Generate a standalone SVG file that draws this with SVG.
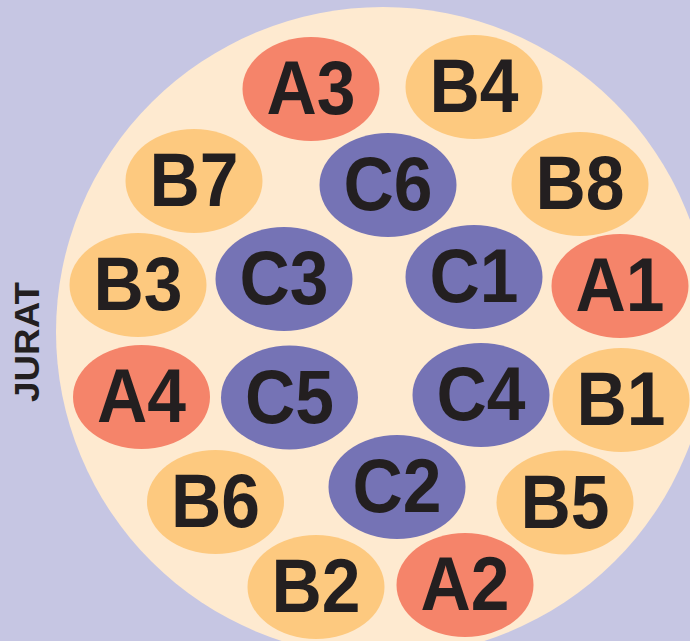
<svg xmlns="http://www.w3.org/2000/svg" width="690" height="641" viewBox="0 0 690 641">
<style>
.a{fill:#F5846A}
.b{fill:#FDC97F}
.c{fill:#7573B5}
.t{font-family:"Liberation Sans",Arial,sans-serif;font-weight:bold;font-size:76px;fill:#231F20;text-anchor:middle}
.j{font-family:"Liberation Sans",Arial,sans-serif;font-weight:bold;font-size:35px;fill:#231F20;text-anchor:middle}
</style>
<rect width="690" height="641" fill="#C6C6E3"/>
<ellipse id="plate" cx="383" cy="332" rx="327" ry="325" fill="#FEEAD0"/>
<text class="j" transform="translate(39,342) rotate(-90)" textLength="120" lengthAdjust="spacingAndGlyphs">JURAT</text>
<g id="connectors"></g>
<g id="A3"><ellipse class="a" cx="311" cy="89" rx="68.5" ry="52"/><text class="t" x="311" y="114" textLength="89" lengthAdjust="spacingAndGlyphs">A3</text></g>
<g id="B4"><ellipse class="b" cx="474" cy="87" rx="68.5" ry="52"/><text class="t" x="474" y="112" textLength="89" lengthAdjust="spacingAndGlyphs">B4</text></g>
<g id="B7"><ellipse class="b" cx="194" cy="181" rx="68.5" ry="52"/><text class="t" x="194" y="206" textLength="89" lengthAdjust="spacingAndGlyphs">B7</text></g>
<g id="C6"><ellipse class="c" cx="388" cy="185" rx="68.5" ry="52"/><text class="t" x="388" y="210" textLength="89" lengthAdjust="spacingAndGlyphs">C6</text></g>
<g id="B8"><ellipse class="b" cx="580" cy="184" rx="68.5" ry="52"/><text class="t" x="580" y="209" textLength="89" lengthAdjust="spacingAndGlyphs">B8</text></g>
<g id="B3"><ellipse class="b" cx="138" cy="285" rx="68.5" ry="52"/><text class="t" x="138" y="310" textLength="89" lengthAdjust="spacingAndGlyphs">B3</text></g>
<g id="C3"><ellipse class="c" cx="284" cy="279" rx="68.5" ry="52"/><text class="t" x="284" y="304" textLength="89" lengthAdjust="spacingAndGlyphs">C3</text></g>
<g id="C1"><ellipse class="c" cx="474" cy="277" rx="68.5" ry="52"/><text class="t" x="474" y="302" textLength="89" lengthAdjust="spacingAndGlyphs">C1</text></g>
<g id="A1"><ellipse class="a" cx="620" cy="286" rx="68.5" ry="52"/><text class="t" x="620" y="311" textLength="89" lengthAdjust="spacingAndGlyphs">A1</text></g>
<g id="A4"><ellipse class="a" cx="141.5" cy="397" rx="68.5" ry="52"/><text class="t" x="141.5" y="422" textLength="89" lengthAdjust="spacingAndGlyphs">A4</text></g>
<g id="C5"><ellipse class="c" cx="289.5" cy="397.5" rx="68.5" ry="52"/><text class="t" x="289.5" y="422.5" textLength="89" lengthAdjust="spacingAndGlyphs">C5</text></g>
<g id="C4"><ellipse class="c" cx="481" cy="395" rx="68.5" ry="52"/><text class="t" x="481" y="420" textLength="89" lengthAdjust="spacingAndGlyphs">C4</text></g>
<g id="B1"><ellipse class="b" cx="621" cy="400" rx="68.5" ry="52"/><text class="t" x="621" y="425" textLength="89" lengthAdjust="spacingAndGlyphs">B1</text></g>
<g id="B6"><ellipse class="b" cx="215.5" cy="502" rx="68.5" ry="52"/><text class="t" x="215.5" y="527" textLength="89" lengthAdjust="spacingAndGlyphs">B6</text></g>
<g id="C2"><ellipse class="c" cx="397" cy="487" rx="68.5" ry="52"/><text class="t" x="397" y="512" textLength="89" lengthAdjust="spacingAndGlyphs">C2</text></g>
<g id="B5"><ellipse class="b" cx="565" cy="502.5" rx="68.5" ry="52"/><text class="t" x="565" y="527.5" textLength="89" lengthAdjust="spacingAndGlyphs">B5</text></g>
<g id="B2"><ellipse class="b" cx="316" cy="587" rx="68.5" ry="52"/><text class="t" x="316" y="612" textLength="89" lengthAdjust="spacingAndGlyphs">B2</text></g>
<g id="A2"><ellipse class="a" cx="465" cy="585" rx="68.5" ry="52"/><text class="t" x="465" y="610" textLength="89" lengthAdjust="spacingAndGlyphs">A2</text></g>
</svg>
